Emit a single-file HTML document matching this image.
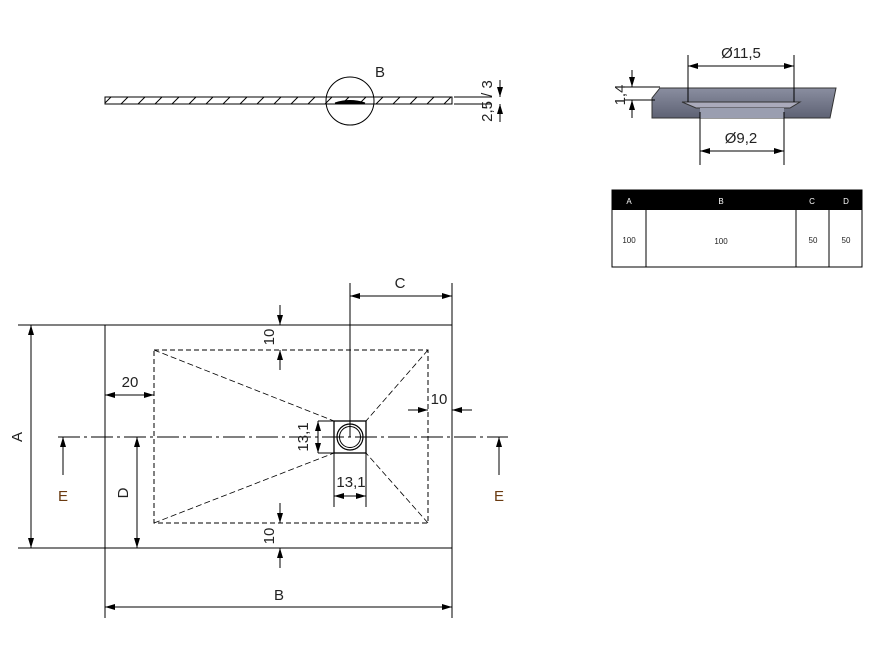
<!DOCTYPE html>
<html><head><style>
body{margin:0;background:#fff;width:874px;height:653px;overflow:hidden;font-family:"Liberation Sans",sans-serif}
svg text{font-family:"Liberation Sans",sans-serif;fill:#222}
</style></head><body>
<svg width="874" height="653" viewBox="0 0 874 653" xmlns="http://www.w3.org/2000/svg">
<defs>
<marker id="a" viewBox="0 0 10 6" refX="10" refY="3" markerWidth="10" markerHeight="6" orient="auto-start-reverse" markerUnits="userSpaceOnUse"><path d="M0,0L10,3L0,6z" fill="#000"/></marker>
<pattern id="h" width="17" height="8" patternUnits="userSpaceOnUse"><path d="M2,8L10,0" stroke="#000" stroke-width="1"/></pattern>
<linearGradient id="g" x1="0" y1="0" x2="0" y2="1"><stop offset="0" stop-color="#8a8ea0"/><stop offset="1" stop-color="#5e6274"/></linearGradient>
</defs>
<g stroke="#000" fill="none" stroke-width="1">
<rect x="105" y="97" width="347" height="7" fill="url(#h)"/>
<path d="M105,97H452" />
<path d="M335,103 Q350,98 365,103 Z" fill="#000"/>
<circle cx="350" cy="101" r="24" fill="none"/>
<path d="M454,97H492M454,104H492"/>
<path d="M500,80V97" marker-end="url(#a)"/><path d="M500,122V104" marker-end="url(#a)"/>
<path d="M660,88H836L830,118H652V98Z" fill="url(#g)" stroke="#333"/>
<path d="M682,102H800L790,108H696Z" fill="#aab" stroke="#333"/>
<path d="M700,108H784V118H700Z" fill="#9a9eb0" stroke="none"/>
<path d="M688,55V102M794,55V102M700,112V165M784,112V165"/>
<path d="M688,66H794" marker-start="url(#a)" marker-end="url(#a)"/>
<path d="M700,151H784" marker-start="url(#a)" marker-end="url(#a)"/>
<path d="M625,87H660M625,100H655"/>
<path d="M632,70V87" marker-end="url(#a)"/><path d="M632,118V100" marker-end="url(#a)"/>
<rect x="612" y="190" width="250" height="77"/>
<path d="M646,210V267M796,210V267M829,210V267"/>
<rect x="105" y="325" width="347" height="223"/>
<rect x="154" y="350" width="274" height="173" stroke-dasharray="5,3"/>
<path d="M154,350L334,421M154,523L334,453M428,350L366,421M428,523L366,453" stroke-dasharray="6,3" stroke-width="0.8"/>
<rect x="334" y="421" width="32" height="32" stroke-width="1.3"/>
<circle cx="350" cy="437" r="13" stroke-width="1.2"/><circle cx="350" cy="437" r="10.5"/>
<path d="M58,437H508" stroke-dasharray="22,4,3,4"/>
<path d="M350,283V437"/>
<path d="M452,283V325"/>
<path d="M350,296H452" marker-start="url(#a)" marker-end="url(#a)"/>
<path d="M18,325H105M18,548H105"/>
<path d="M31,325V548" marker-start="url(#a)" marker-end="url(#a)"/>
<path d="M137,437V548" marker-start="url(#a)" marker-end="url(#a)"/>
<path d="M105,548V618M452,548V618"/>
<path d="M105,607H452" marker-start="url(#a)" marker-end="url(#a)"/>
<path d="M105,395H154" marker-start="url(#a)" marker-end="url(#a)"/>
<path d="M280,305V325" marker-end="url(#a)"/><path d="M280,370V350" marker-end="url(#a)"/>
<path d="M280,503V523" marker-end="url(#a)"/><path d="M280,568V548" marker-end="url(#a)"/>
<path d="M408,410H428" marker-end="url(#a)"/><path d="M472,410H452" marker-end="url(#a)"/>
<path d="M318,421H334M318,453H334"/>
<path d="M318,421V453" marker-start="url(#a)" marker-end="url(#a)"/>
<path d="M334,453V507M366,453V507"/>
<path d="M334,496H366" marker-start="url(#a)" marker-end="url(#a)"/>
<path d="M63,437V475" marker-start="url(#a)"/><path d="M499,437V475" marker-start="url(#a)"/>
</g>
<rect x="612" y="190" width="250" height="20" fill="#000"/>
<g font-size="8" text-anchor="middle"><text x="629" y="204" style="fill:#fff">A</text><text x="721" y="204" style="fill:#fff">B</text><text x="812" y="204" style="fill:#fff">C</text><text x="846" y="204" style="fill:#fff">D</text>
<text x="629" y="243">100</text><text x="721" y="244">100</text><text x="813" y="243">50</text><text x="846" y="243">50</text></g>
<g font-size="15" text-anchor="middle">
<text x="380" y="77">B</text>
<text x="741" y="58">Ø11,5</text>
<text x="741" y="143">Ø9,2</text>
<text x="400" y="288">C</text>
<text x="130" y="387">20</text>
<text x="439" y="404">10</text>
<text x="351" y="487">13,1</text>
<text x="279" y="600">B</text>
<text x="63" y="501" style="fill:#6a3a10">E</text>
<text x="499" y="501" style="fill:#6a3a10">E</text>
<text transform="translate(22,437) rotate(-90)">A</text>
<text transform="translate(128,493) rotate(-90)">D</text>
<text transform="translate(274,337) rotate(-90)">10</text>
<text transform="translate(274,536) rotate(-90)">10</text>
<text transform="translate(308,437) rotate(-90)">13,1</text>
<text transform="translate(492,101) rotate(-90)">2,5 / 3</text>
<text transform="translate(625,95) rotate(-90)">1,4</text>
</g>
</svg>
</body></html>
